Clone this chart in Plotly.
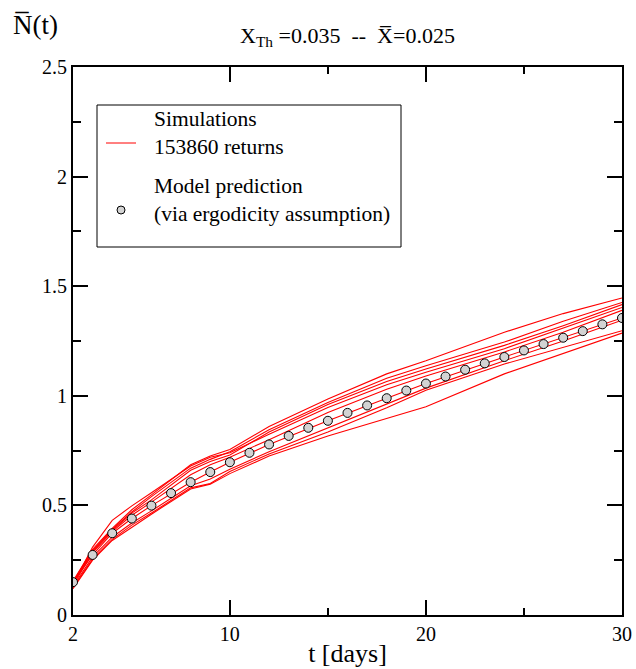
import plotly.graph_objects as go

# ---- data ----
T_MODEL = list(range(2, 31))
N_MODEL = [0.150, 0.274, 0.373, 0.440, 0.499, 0.556, 0.606, 0.652, 0.697, 0.740,
           0.778, 0.817, 0.854, 0.886, 0.922, 0.956, 0.989, 1.024, 1.056, 1.088,
           1.119, 1.148, 1.177, 1.207, 1.236, 1.265, 1.295, 1.326, 1.355]

T_SIM = [2, 3, 4, 5, 6, 8, 9, 10, 12, 15, 18, 20, 24, 27, 30]
SIM_A = [0.155, 0.300, 0.395, 0.480, 0.548, 0.685, 0.725, 0.755, 0.860, 0.985, 1.100, 1.160, 1.290, 1.375, 1.446]
SIM_B = [0.150, 0.295, 0.390, 0.470, 0.540, 0.670, 0.710, 0.745, 0.845, 0.970, 1.080, 1.137, 1.245, 1.340, 1.426]
SIM_C = [0.145, 0.290, 0.385, 0.465, 0.525, 0.660, 0.700, 0.730, 0.835, 0.960, 1.065, 1.122, 1.230, 1.320, 1.416]
SIM_D = [0.140, 0.310, 0.432, 0.498, 0.558, 0.680, 0.720, 0.740, 0.825, 0.947, 1.050, 1.107, 1.215, 1.310, 1.403]
SIM_E = [0.135, 0.285, 0.380, 0.455, 0.515, 0.640, 0.685, 0.720, 0.800, 0.924, 1.030, 1.090, 1.200, 1.290, 1.390]
SIM_F = [0.150, 0.274, 0.373, 0.440, 0.499, 0.606, 0.652, 0.697, 0.778, 0.886, 0.989, 1.056, 1.177, 1.265, 1.355]
SIM_G = [0.130, 0.265, 0.355, 0.420, 0.475, 0.590, 0.620, 0.665, 0.745, 0.855, 0.965, 1.035, 1.160, 1.250, 1.345]
SIM_H = [0.125, 0.255, 0.345, 0.410, 0.465, 0.580, 0.600, 0.655, 0.735, 0.835, 0.945, 1.025, 1.145, 1.220, 1.297]
SIM_I = [0.120, 0.250, 0.340, 0.400, 0.460, 0.575, 0.597, 0.645, 0.725, 0.817, 0.895, 0.950, 1.100, 1.192, 1.286]
SIMS = [SIM_A, SIM_B, SIM_C, SIM_D, SIM_E, SIM_F, SIM_G, SIM_H, SIM_I]

X_TICKS = [2, 10, 20, 30]
X_MINOR = [15, 25]

FONT = "Liberation Serif, Times New Roman, serif"

fig = go.Figure()
for i, ys in enumerate(SIMS):
    fig.add_trace(go.Scatter(x=T_SIM, y=ys, mode="lines",
                             line=dict(color="#ff0000", width=1.1),
                             name="Simulations 153860 returns",
                             showlegend=False, hoverinfo="skip"))
fig.add_trace(go.Scatter(x=T_MODEL, y=N_MODEL, mode="markers",
                         marker=dict(size=9, color="#d3d3d3",
                                     line=dict(color="black", width=1)),
                         name="Model prediction", showlegend=False))

# plot-area pixel geometry: x 73..622, y 67..615
def px(x):
    return (x - 73) / 549.0

def py(y):
    return (615 - y) / 548.0

shapes = [
    dict(type="rect", xref="paper", yref="paper", x0=px(97), x1=px(401),
         y0=py(247), y1=py(105), line=dict(color="black", width=1),
         fillcolor="white", layer="above"),
    dict(type="line", xref="paper", yref="paper", x0=px(106), x1=px(136),
         y0=py(143), y1=py(143), line=dict(color="#ff0000", width=1), layer="above"),
    dict(type="circle", xref="paper", yref="paper", x0=px(117), x1=px(125),
         y0=py(214), y1=py(206), line=dict(color="black", width=1),
         fillcolor="#d3d3d3", layer="above"),
]

ann = []
for txt, yy in [("Simulations<br>153860 returns", 133.5),
                ("Model prediction<br>(via ergodicity assumption)", 200)]:
    ann.append(dict(text=txt, xref="paper", yref="paper", x=px(152), y=py(yy),
                    xanchor="left", yanchor="middle", align="left", showarrow=False,
                    font=dict(family=FONT, size=21.5, color="black")))
ann.append(dict(text="N\u0305(t)", xref="paper", yref="paper", x=px(11), y=py(25),
                xanchor="left", yanchor="middle", showarrow=False,
                font=dict(family=FONT, size=27, color="black")))

fig.update_layout(
    width=636, height=669,
    margin=dict(l=73, r=14, t=67, b=54),
    paper_bgcolor="white", plot_bgcolor="white",
    font=dict(family=FONT, color="black"),
    title=dict(text="X<sub>Th</sub> =0.035\u00a0\u00a0--\u00a0\u00a0X\u0305=0.025",
               x=0.5, xref="paper", xanchor="center",
               y=1 - 35 / 669, yref="container", yanchor="middle",
               font=dict(family=FONT, size=22, color="black")),
    shapes=shapes, annotations=ann, showlegend=False,
)
axis_common = dict(showline=True, linecolor="black", linewidth=2, mirror="ticks",
                   ticks="inside", ticklen=15, tickwidth=1.5, tickcolor="black",
                   showgrid=False, zeroline=False, automargin=False,
                   tickfont=dict(family=FONT, size=20, color="black"))
fig.update_xaxes(range=[2, 30], tickmode="array", tickvals=X_TICKS,
                 minor=dict(tickmode="array", tickvals=X_MINOR, ticks="inside",
                            ticklen=7, tickwidth=1.5, tickcolor="black", showgrid=False),
                 title=dict(text="t [days]", font=dict(family=FONT, size=26), standoff=0),
                 **axis_common)
fig.update_yaxes(range=[0, 2.5], tickmode="linear", tick0=0, dtick=0.5,
                 minor=dict(tickmode="linear", tick0=0, dtick=0.25, ticks="inside",
                            ticklen=8, tickwidth=1.5, tickcolor="black", showgrid=False),
                 **axis_common)

fig.write_html("out.html", config={"displayModeBar": False},
               post_script="document.body.style.margin='0px';")
